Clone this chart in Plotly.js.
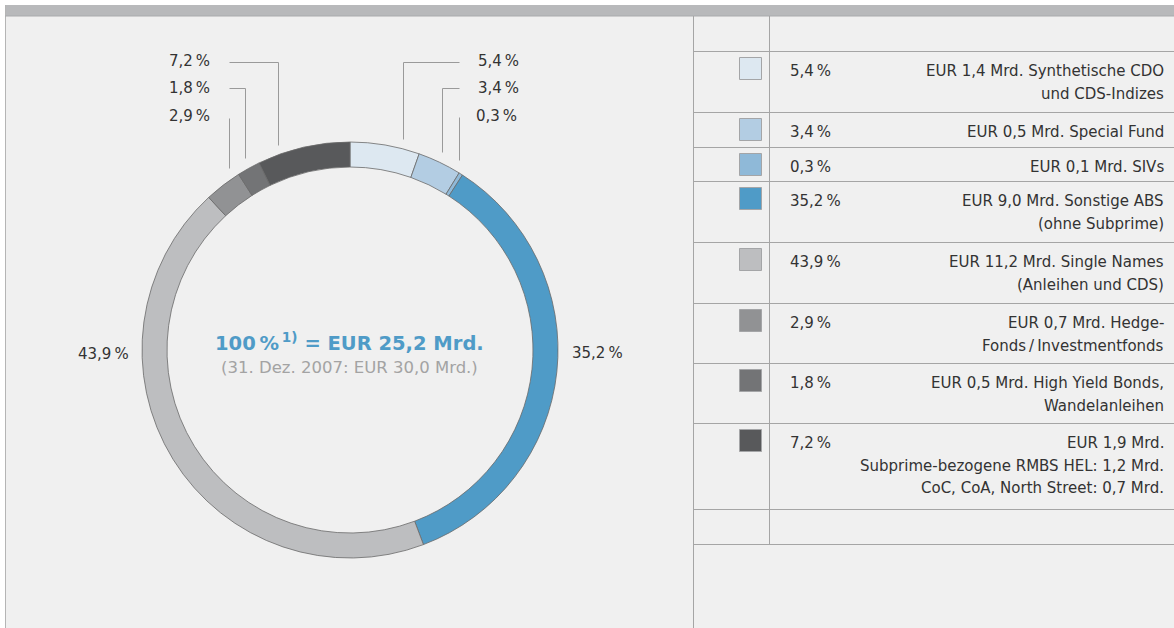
<!DOCTYPE html>
<html>
<head>
<meta charset="utf-8">
<script src="https://cdn.plot.ly/plotly-3.0.1.min.js"></script>
<style>
  html, body { margin: 0; padding: 0; background: #ffffff; }
  #chart { width: 1174px; height: 628px; }
</style>
</head>
<body>
<div id="chart"></div>
<script>
// ---------------- DATA ----------------
const categories = [
  'Synthetische CDO und CDS-Indizes',
  'Special Fund',
  'SIVs',
  'Sonstige ABS (ohne Subprime)',
  'Single Names (Anleihen und CDS)',
  'Hedge-Fonds/Investmentfonds',
  'High Yield Bonds, Wandelanleihen',
  'Subprime-bezogene RMBS HEL, CoC, CoA, North Street'
];
const shares = [5.4, 3.4, 0.3, 35.2, 43.9, 2.9, 1.8, 7.2];
const amountsBn = [1.4, 0.5, 0.1, 9.0, 11.2, 0.7, 0.5, 1.9];
const legendDescriptions = [
  ['EUR 1,4 Mrd. Synthetische CDO', 'und CDS-Indizes'],
  ['EUR 0,5 Mrd. Special Fund'],
  ['EUR 0,1 Mrd. SIVs'],
  ['EUR 9,0 Mrd. Sonstige ABS', '(ohne Subprime)'],
  ['EUR 11,2 Mrd. Single Names', '(Anleihen und CDS)'],
  ['EUR 0,7 Mrd. Hedge-', 'Fonds\u2009/\u2009Investmentfonds'],
  ['EUR 0,5 Mrd. High Yield Bonds,', 'Wandelanleihen'],
  ['EUR 1,9 Mrd.', 'Subprime-bezogene RMBS HEL: 1,2 Mrd.', 'CoC, CoA, North Street: 0,7 Mrd.']
];
const totalText = '100\u2009%<sup>\u20091)</sup> = EUR 25,2 Mrd.';
const priorText = '(31. Dez. 2007: EUR 30,0 Mrd.)';

// ---------------- STYLE / LAYOUT ----------------
const sliceColors = ['#dde8f1', '#b3cde3', '#8fb9d8', '#4f9bc7', '#bdbec0', '#919294', '#737476', '#58595b'];
const FONT = 'DejaVu Sans, sans-serif';
const W = 1174, H = 628;
const cx = 350, cy = 350, R = 208;
const fmt = v => v.toFixed(1).replace('.', ',') + '\u2009%';

// outside label placement (label furniture only)
const outsideLabels = [
  { i: 0, tx: 476, ty: 61, anchor: 'left',  path: [[459, 62], [403, 62], [403, 139]] },
  { i: 1, tx: 476, ty: 88, anchor: 'left',  path: [[459, 88], [442, 88], [442, 152]] },
  { i: 2, tx: 474, ty: 116, anchor: 'left', path: [[459, 117], [459, 160]] },
  { i: 3, tx: 570, ty: 353, anchor: 'left', path: null },
  { i: 4, tx: 131, ty: 354, anchor: 'right', path: null },
  { i: 5, tx: 212, ty: 116, anchor: 'right', path: [[229, 118], [229, 168]] },
  { i: 6, tx: 212, ty: 88, anchor: 'right', path: [[229, 88], [245, 88], [245, 158]] },
  { i: 7, tx: 212, ty: 61, anchor: 'right', path: [[229, 62], [278, 62], [278, 145]] }
];
const rowTops = [51, 112, 147, 181, 242, 303, 363, 423, 509, 544];
const lineGap = 22.5;

const shapes = [];
const annotations = [];

// frame
shapes.push({ type: 'rect', xref: 'x', yref: 'y', x0: 0, x1: W, y0: 0, y1: 5, fillcolor: '#ffffff', line: { width: 0 }, layer: 'below' });
shapes.push({ type: 'rect', xref: 'x', yref: 'y', x0: 0, x1: 5, y0: 0, y1: H, fillcolor: '#ffffff', line: { width: 0 }, layer: 'below' });
shapes.push({ type: 'rect', xref: 'x', yref: 'y', x0: 5, x1: W, y0: 5, y1: 16, fillcolor: '#b8b9bb', line: { width: 0 }, layer: 'below' });
shapes.push({ type: 'line', xref: 'x', yref: 'y', x0: 5.5, x1: 5.5, y0: 5, y1: H, line: { color: '#b5b5b5', width: 1 }, layer: 'below' });
shapes.push({ type: 'line', xref: 'x', yref: 'y', x0: 5, x1: W, y0: 16, y1: 16, line: { color: '#a9aaac', width: 1 }, layer: 'below' });
// table
shapes.push({ type: 'line', xref: 'x', yref: 'y', x0: 693.5, x1: 693.5, y0: 16, y1: H, line: { color: '#a5a5a5', width: 1 }, layer: 'below' });
shapes.push({ type: 'line', xref: 'x', yref: 'y', x0: 769.5, x1: 769.5, y0: 16, y1: 544, line: { color: '#a5a5a5', width: 1 }, layer: 'below' });
rowTops.forEach(t => {
  shapes.push({ type: 'line', xref: 'x', yref: 'y', x0: 693, x1: W, y0: t + 0.5, y1: t + 0.5, line: { color: '#a5a5a5', width: 1 }, layer: 'below' });
});

// legend rows
shares.forEach((s, i) => {
  const top = rowTops[i];
  shapes.push({ type: 'rect', xref: 'x', yref: 'y', x0: 739.5, x1: 761.5, y0: top + 6.5, y1: top + 28.5,
    fillcolor: sliceColors[i], line: { color: '#a4a5a7', width: 1 }, layer: 'above' });
  const yc = top + 20;
  annotations.push({ xref: 'x', yref: 'y', x: 788, y: yc, text: fmt(s), showarrow: false,
    xanchor: 'left', yanchor: 'middle', font: { family: FONT, size: 15, color: '#333333' } });
  legendDescriptions[i].forEach((ln, k) => {
    annotations.push({ xref: 'x', yref: 'y', x: 1166, y: yc + k * lineGap, text: ln, showarrow: false,
      xanchor: 'right', yanchor: 'middle', font: { family: FONT, size: 15, color: '#333333' } });
  });
});

// outside labels + leader lines
outsideLabels.forEach(l => {
  annotations.push({ xref: 'x', yref: 'y', x: l.tx, y: l.ty, text: fmt(shares[l.i]), showarrow: false,
    xanchor: l.anchor, yanchor: 'middle', font: { family: FONT, size: 15, color: '#333333' } });
  if (l.path) {
    for (let k = 0; k < l.path.length - 1; k++) {
      shapes.push({ type: 'line', xref: 'x', yref: 'y',
        x0: l.path[k][0] + 0.5, y0: l.path[k][1] + 0.5, x1: l.path[k + 1][0] + 0.5, y1: l.path[k + 1][1] + 0.5,
        line: { color: '#9a9a9a', width: 1 }, layer: 'below' });
    }
  }
});

// center text
annotations.push({ xref: 'x', yref: 'y', x: cx - 0.5, y: 342, text: '<b>' + totalText + '</b>', showarrow: false,
  xanchor: 'center', yanchor: 'middle', font: { family: FONT, size: 19.5, color: '#4f9bc7' } });
annotations.push({ xref: 'x', yref: 'y', x: cx - 1, y: 367, text: priorText, showarrow: false,
  xanchor: 'center', yanchor: 'middle', font: { family: FONT, size: 16.5, color: '#a3a3a3' } });

const pie = {
  type: 'pie',
  values: shares,
  labels: categories,
  customdata: amountsBn,
  sort: false,
  direction: 'clockwise',
  rotation: 0,
  hole: 183 / 208,
  textinfo: 'none',
  hoverinfo: 'skip',
  showlegend: false,
  marker: { colors: sliceColors, line: { color: '#6a6a6a', width: 0.8 } },
  domain: { x: [(cx - R) / W, (cx + R) / W], y: [(H - cy - R) / H, (H - cy + R) / H] }
};

const layout = {
  width: W, height: H,
  margin: { l: 0, r: 0, t: 0, b: 0, pad: 0 },
  paper_bgcolor: '#f0f0f0',
  plot_bgcolor: 'rgba(0,0,0,0)',
  xaxis: { range: [0, W], visible: false, fixedrange: true },
  yaxis: { range: [H, 0], visible: false, fixedrange: true },
  shapes: shapes,
  annotations: annotations,
  showlegend: false
};

Plotly.newPlot('chart', [pie], layout, { displayModeBar: false, staticPlot: true });
</script>
</body>
</html>
